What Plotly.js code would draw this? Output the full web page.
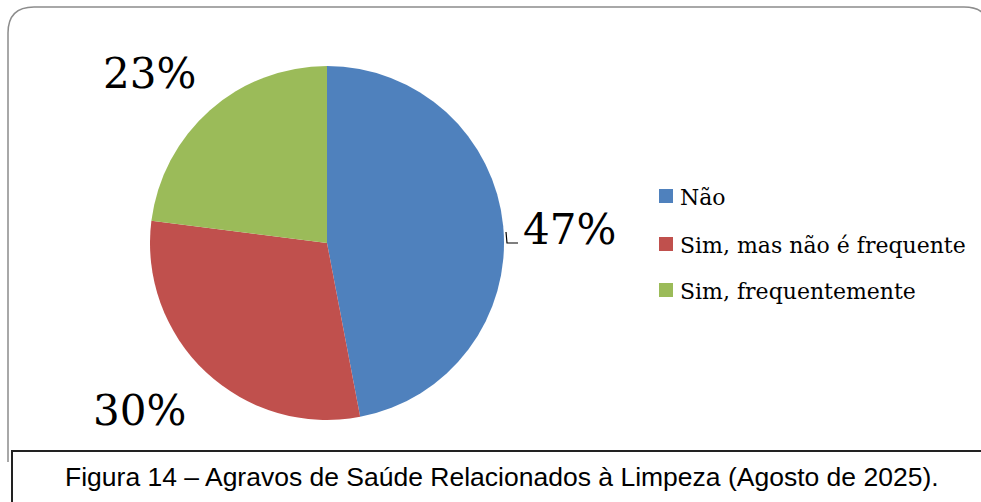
<!DOCTYPE html>
<html>
<head>
<meta charset="utf-8">
<script src="https://cdn.plot.ly/plotly-3.0.1.min.js"></script>
<style>html,body{margin:0;padding:0;background:#fff;}#chart{width:981px;height:502px;}</style>
</head>
<body>
<div id="chart"></div>
<script>
const categories = ["Não", "Sim, mas não é frequente", "Sim, frequentemente"];
const values = [47, 30, 23];
const colors = ["#4F81BD", "#C0504D", "#9BBB59"];
const caption = "Figura 14 – Agravos de Saúde Relacionados à Limpeza (Agosto de 2025).";

const W = 981, H = 502;
const px = x => x / W;
const py = y => 1 - y / H;
const total = values.reduce((a, b) => a + b, 0);
const pct = values.map(v => Math.round(v / total * 100) + "%");

// label positions (pixels) for each slice percentage
const labelPos = [[569, 229], [139, 410], [149, 74]];

const annotations = [];
labelPos.forEach((p, i) => {
  annotations.push({
    xref: "paper", yref: "paper", x: px(p[0]), y: py(p[1]),
    xanchor: "center", yanchor: "middle", showarrow: false,
    text: pct[i], font: {family: "DejaVu Serif", size: 42, color: "#000"}
  });
});

const shapes = [];
// legend
const legY = [196, 244, 290];
categories.forEach((c, i) => {
  shapes.push({type: "rect", xref: "paper", yref: "paper",
    x0: px(659), x1: px(673), y0: py(legY[i] - 7), y1: py(legY[i] + 7),
    fillcolor: colors[i], line: {width: 0}});
  annotations.push({xref: "paper", yref: "paper", x: px(678), y: py(legY[i] + 1),
    xanchor: "left", yanchor: "middle", showarrow: false, text: c,
    font: {family: "DejaVu Serif", size: 22, color: "#000"}});
});

// leader line for first label
shapes.push({type: "path", xref: "paper", yref: "paper",
  path: `M ${px(506)} ${py(232)} L ${px(507)} ${py(243)} L ${px(518)} ${py(243)}`,
  line: {color: "#000", width: 1.2}});

// outer rounded frame
const r = 26, L = 8, T = 7, R = 990, B = 462;
shapes.push({type: "path", xref: "paper", yref: "paper",
  path: `M ${px(L)} ${py(B)} L ${px(L)} ${py(T + r)} Q ${px(L)} ${py(T)} ${px(L + r)} ${py(T)} ` +
        `L ${px(R - r)} ${py(T)} Q ${px(R)} ${py(T)} ${px(R)} ${py(T + r)} L ${px(R)} ${py(B)}`,
  line: {color: "#8c8c8c", width: 1.5}});

// caption box
shapes.push({type: "rect", xref: "paper", yref: "paper",
  x0: px(12), x1: px(995), y0: py(451), y1: py(520),
  fillcolor: "#fff", line: {color: "#222", width: 2}});
annotations.push({xref: "paper", yref: "paper", x: px(502), y: py(477),
  xanchor: "center", yanchor: "middle", showarrow: false, text: caption,
  font: {family: "Liberation Sans", size: 26.5, color: "#000"}});

const data = [{
  type: "pie",
  labels: categories,
  values: values,
  sort: false,
  direction: "clockwise",
  rotation: 0,
  marker: {colors: colors, line: {width: 0}},
  textinfo: "none",
  hoverinfo: "none",
  showlegend: false,
  domain: {x: [px(150), px(504)], y: [py(420), py(66)]}
}];

const layout = {
  width: W, height: H,
  margin: {l: 0, r: 0, t: 0, b: 0},
  paper_bgcolor: "#fff",
  showlegend: false,
  shapes: shapes,
  annotations: annotations
};

Plotly.newPlot("chart", data, layout, {displayModeBar: false, staticPlot: true});
</script>
</body>
</html>
